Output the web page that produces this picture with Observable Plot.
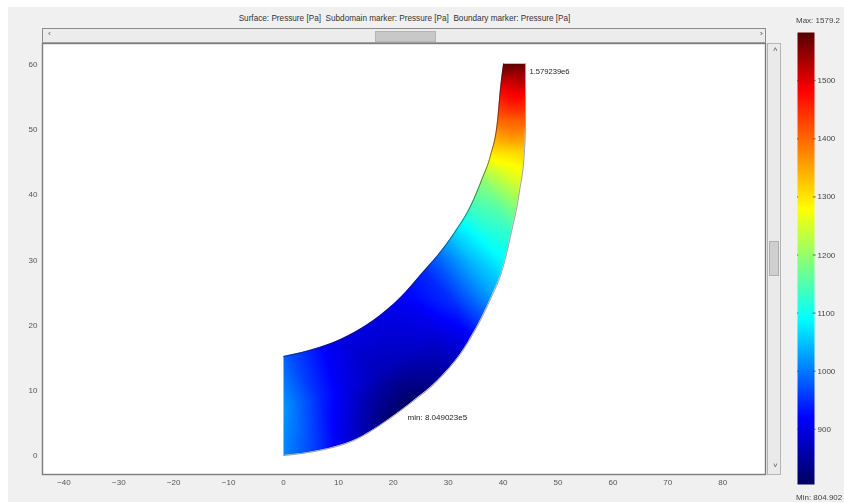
<!DOCTYPE html>
<html><head><meta charset="utf-8">
<script src="https://cdn.jsdelivr.net/npm/d3@7"></script>
<script src="https://cdn.jsdelivr.net/npm/@observablehq/plot@0.6"></script>
<style>
html,body{margin:0;padding:0;background:#fff;width:844px;height:503px;overflow:hidden}
#root{position:absolute;left:0;top:0;width:844px;height:503px;overflow:hidden;filter:blur(.6px);font-family:"Liberation Sans",sans-serif}
#panel{position:absolute;left:8px;top:7px;width:836px;height:495px;background:#f0f0f0}
.ui{position:absolute;box-sizing:border-box}
.t{position:absolute;font-size:8px;color:#333;white-space:nowrap}
#main,#bar{position:absolute;top:0}
#main{left:0}#bar{left:790px}
svg{background:transparent!important;display:block}
</style></head><body>
<div id="root">
<div id="panel"></div>
<div class="t" style="left:237px;top:14px;width:335px;text-align:center;font-size:8.2px">Surface: Pressure [Pa]&nbsp; Subdomain marker: Pressure [Pa]&nbsp; Boundary marker: Pressure [Pa]</div>
<div class="ui" style="left:42px;top:28px;width:724px;height:15px;background:#ececec;border:1px solid #8a8a8a;border-bottom-color:#aaa"></div>
<div class="ui" style="left:375px;top:31px;width:61px;height:11px;background:#c8c8c8;border:1px solid #b5b5b5"></div>
<div class="t" style="left:48px;top:29px;color:#555">‹</div>
<div class="t" style="left:760px;top:29px;color:#333">›</div>
<div class="ui" style="left:767px;top:43px;width:14px;height:432px;background:#eaeaea;border:1px solid #b5b5b5"></div>
<div class="ui" style="left:769px;top:241px;width:10px;height:35px;background:#cfcfcf;border:1px solid #b0b0b0"></div>
<div class="t" style="left:773px;top:45px;color:#555">˄</div>
<div class="t" style="left:773px;top:461px;color:#555">˅</div>
<div id="main"></div>
<div id="bar"></div>
<div class="t" style="left:796px;top:16px;color:#444">Max: 1579.2</div>
<div class="t" style="left:796px;top:493px;color:#444">Min: 804.902</div>
</div>
<script>
// boundary and field samples (mm, pressure in MPa)
const innerX = [0, 6.7, 10.4, 16.4, 21.3, 25.5, 28.1, 31.0, 34.1, 36.2, 37.7, 39.0, 39.5, 40.1];
const innerY = [15.2, 16.6, 17.8, 20.7, 24.2, 28.2, 30.7, 34.0, 38.3, 42.5, 46.0, 51.4, 56.0, 60.1];
const innerP = [985, 925, 900, 900, 915, 945, 990, 1060, 1140, 1200, 1290, 1400, 1485, 1579];
const midX = [0, 6.7, 11.6, 17.6, 22.2, 26.8, 30.8, 34.3, 37.0, 38.7, 40.4, 41.5, 41.8, 42.1];
const midY = [7.6, 8.9, 10.1, 13.0, 16.1, 19.7, 23.6, 29.4, 33.7, 38.5, 43.9, 49.1, 53.7, 60.1];
const midP = [1020, 945, 900, 870, 880, 900, 950, 1040, 1105, 1160, 1265, 1370, 1460, 1579];
const outerX = [0, 6.7, 12.8, 18.9, 23.1, 28.1, 33.5, 37.7, 39.9, 41.5, 43.0, 43.9, 44.1, 44.1];
const outerY = [0, 0.8, 2.3, 5.4, 8.0, 11.5, 17.2, 24.0, 28.6, 34.2, 40.6, 46.8, 51.4, 60.1];
const outerP = [1010, 950, 880, 820, 808, 840, 900, 1020, 1075, 1130, 1235, 1320, 1410, 1575];
const colorStops = [805, 920, 1005, 1090, 1185, 1280, 1380, 1483, 1583];
const colorValues = ["#00005f", "#0000ff", "#0080ff", "#00ffff", "#80ff80", "#ffff00", "#ff8000", "#ff0000", "#560000"];
const xTicks = [-40, -30, -20, -10, 0, 10, 20, 30, 40, 50, 60, 70, 80];
const yTicks = [0, 10, 20, 30, 40, 50, 60];
const barTicks = [900, 1000, 1100, 1200, 1300, 1400, 1500];
const barStops = [805, 920, 1005, 1090, 1185, 1280, 1380, 1483, 1583];
const minLabel = "min: 8.049023e5";
const maxLabel = "1.579239e6";

const toRows = (xs, ys, ps) => xs.map((x, i) => ({x, y: ys[i], p: ps[i]}));
const inner = toRows(innerX, innerY, innerP);
const mid = toRows(midX, midY, midP);
const outer = toRows(outerX, outerY, outerP);
const samples = [...inner, ...mid, ...outer];
const color = {type: "linear", domain: colorStops, range: colorValues, clamp: true};
const topEdge = innerY[innerY.length - 1];
const rightEdge = outerX[outerX.length - 1];
// the white mask reaches slightly past the raster's right edge so no sliver shows
const outerMask = [...outer, {x: rightEdge + 0.5, y: topEdge}];

const main = Plot.plot({
  width: 790, height: 503,
  marginLeft: 42, marginRight: 25, marginTop: 43, marginBottom: 29,
  style: {background: "transparent", fontFamily: "Liberation Sans", fontSize: "8px"},
  x: {domain: [-43.9, 87.8], ticks: xTicks, tickSize: 0, tickPadding: 5, label: null},
  y: {domain: [-2.9, 63.2], ticks: yTicks, tickSize: 0, tickPadding: 5, label: null},
  color,
  marks: [
    Plot.frame({fill: "#fff", stroke: "#7c7c7c", strokeWidth: 1.4}),
    Plot.axisX({ticks: xTicks, tickSize: 0, tickPadding: 5, color: "#555", label: null}),
    Plot.axisY({ticks: yTicks, tickSize: 0, tickPadding: 5, color: "#555", label: null}),
    Plot.raster(samples, {x: "x", y: "y", fill: "p", interpolate: "barycentric", x1: 0, y1: 0, x2: rightEdge, y2: topEdge}),
    Plot.areaY(inner, {x: "x", y1: "y", y2: () => topEdge + 0.3, fill: "#fff", curve: "monotone-x"}),
    Plot.areaY(outerMask, {x: "x", y1: "y", y2: () => -0.3, fill: "#fff", curve: "monotone-x"}),
    Plot.line(inner, {x: "x", y: "y", stroke: "#222", strokeWidth: 0.8, strokeOpacity: 0.75, curve: "monotone-x"}),
    Plot.line(outer, {x: "x", y: "y", stroke: "#222", strokeWidth: 0.8, strokeOpacity: 0.55, curve: "monotone-x"}),
    Plot.text([minLabel], {x: 22.6, y: 5.8, text: d => d, textAnchor: "start", fill: "#222", fontSize: 8}),
    Plot.text([maxLabel], {x: 44.8, y: 58.9, text: d => d, textAnchor: "start", fill: "#222", fontSize: 7.6})
  ]
});
document.getElementById("main").append(main);

const barRows = barStops.flatMap(v => [{x: 0, v}, {x: 1, v}]);
const bar = Plot.plot({
  width: 54, height: 503,
  marginLeft: 7, marginRight: 30, marginTop: 32, marginBottom: 19,
  style: {background: "transparent", fontFamily: "Liberation Sans", fontSize: "8px"},
  x: {domain: [0, 1], axis: null},
  y: {domain: [805, 1583], ticks: barTicks, label: null, axis: null},
  color,
  marks: [
    Plot.raster(barRows, {x: "x", y: "v", fill: "v", interpolate: "barycentric", x1: 0, x2: 1, y1: 805, y2: 1583}),
    Plot.ruleY(barTicks, {x1: 0, x2: 0.07, stroke: "#333", strokeWidth: 0.7}),
    Plot.ruleY(barTicks, {x1: 0.93, x2: 1.1, stroke: "#333", strokeWidth: 0.7}),
    Plot.text(barTicks, {x: 1, y: d => d, text: d => String(d), textAnchor: "start", dx: 3, fill: "#444", fontSize: 8})
  ]
});
document.getElementById("bar").append(bar);
</script>
</body></html>
